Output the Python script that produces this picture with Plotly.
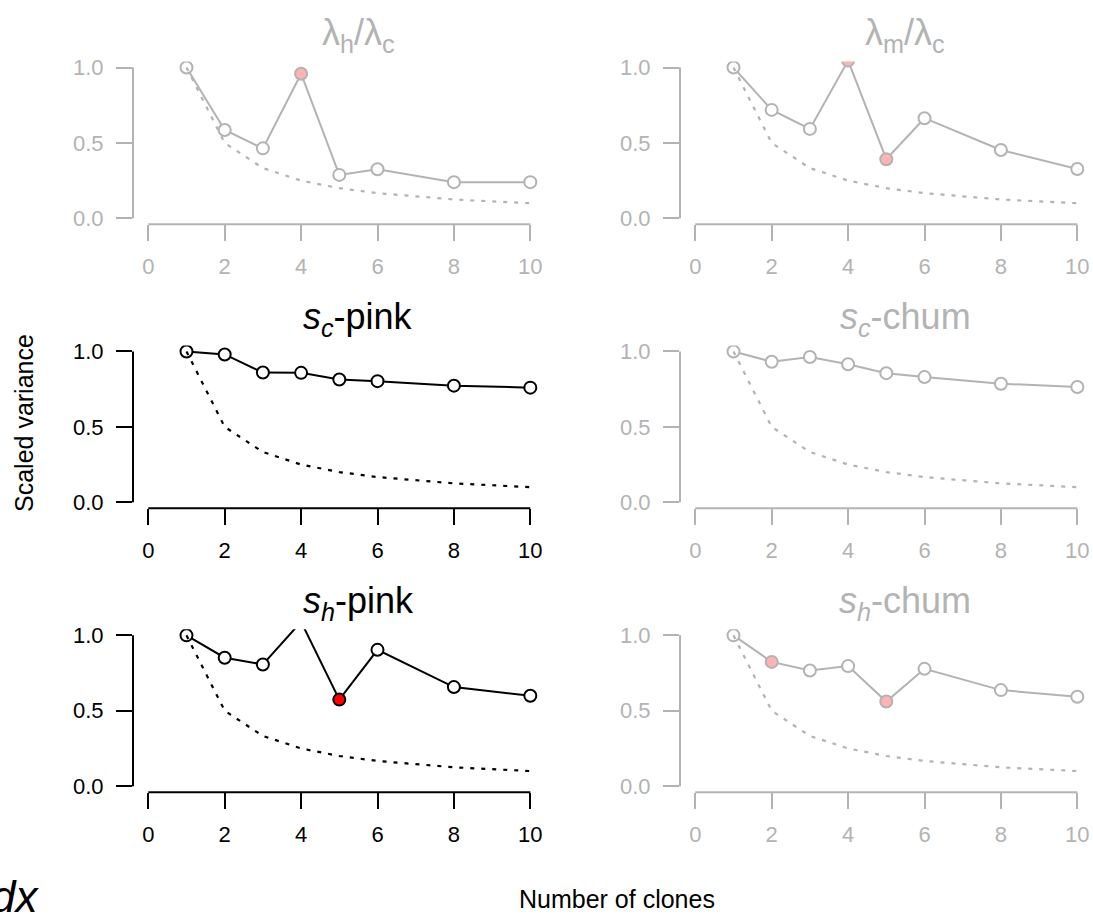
import plotly.graph_objects as go

W, H = 1093, 916

# ---------------- data ----------------
x_clones = [1, 2, 3, 4, 5, 6, 8, 10]
expected_1_over_n = [1.0, 0.5, 0.333, 0.25, 0.2, 0.167, 0.125, 0.1]

lam_h_over_lam_c = [1.0, 0.586, 0.464, 0.959, 0.288, 0.325, 0.240, 0.240]
lam_m_over_lam_c = [1.0, 0.719, 0.593, 1.046, 0.392, 0.664, 0.453, 0.327]
s_c_pink = [1.0, 0.980, 0.860, 0.858, 0.814, 0.803, 0.773, 0.760]
s_c_chum = [1.0, 0.932, 0.963, 0.915, 0.856, 0.830, 0.786, 0.764]
s_h_pink = [1.0, 0.852, 0.807, 1.09, 0.574, 0.904, 0.657, 0.600]
s_h_chum = [1.0, 0.824, 0.767, 0.796, 0.561, 0.778, 0.637, 0.593]

# x values of highlighted points in each panel
hl_lam_h = [4]
hl_lam_m = [4, 5]
hl_s_c_pink = []
hl_s_c_chum = []
hl_s_h_pink = [5]
hl_s_h_chum = [2, 5]

titles = [
    "λ<sub>h</sub>/λ<sub>c</sub>",
    "λ<sub>m</sub>/λ<sub>c</sub>",
    "<i>s</i><sub><i>c</i></sub>-pink",
    "<i>s</i><sub><i>c</i></sub>-chum",
    "<i>s</i><sub><i>h</i></sub>-pink",
    "<i>s</i><sub><i>h</i></sub>-chum",
]
x_ticks = [0, 2, 4, 6, 8, 10]
y_ticks = [0, 0.5, 1.0]
y_tick_text = ["0.0", "0.5", "1.0"]

# ---------------- styling ----------------
FONT = "Liberation Sans, Arial, Helvetica, sans-serif"
GREY = "#B3B3B3"
PINK = "#FFB3B3"
BLACK = "#000000"
RED = "#FF0000"

panels = [
    (lam_h_over_lam_c, hl_lam_h, False),
    (lam_m_over_lam_c, hl_lam_m, False),
    (s_c_pink, hl_s_c_pink, True),
    (s_c_chum, hl_s_c_chum, False),
    (s_h_pink, hl_s_h_pink, True),
    (s_h_chum, hl_s_h_chum, False),
]

XR = [-0.4, 10.4]
YR = [-0.04, 1.04]

# pixel geometry of the plot regions
col_left = [133.0, 680.0]
col_width = 412.6
row_top = [56.3, 344.3, 632.3]
row_height = 165.2


def px(v):
    return v / W


def py(v):
    return 1 - v / H


fig = go.Figure()
shapes = []
annotations = []

for i, (vals, hl, active) in enumerate(panels):
    r, c = divmod(i, 2)
    n = i + 1
    xa = "x" if n == 1 else f"x{n}"
    ya = "y" if n == 1 else f"y{n}"
    col = BLACK if active else GREY
    hl_fill = RED if active else PINK
    hl_line = BLACK if active else GREY

    fills = [hl_fill if x in hl else "white" for x in x_clones]
    lines = [hl_line if x in hl else col for x in x_clones]

    fig.add_trace(go.Scatter(
        x=x_clones, y=vals, mode="lines", xaxis=xa, yaxis=ya,
        line=dict(color=col, width=2), showlegend=False, hoverinfo="skip"))
    fig.add_trace(go.Scatter(
        x=x_clones, y=vals, mode="markers", xaxis=xa, yaxis=ya,
        marker=dict(size=12, color=fills, line=dict(color=lines, width=2)),
        showlegend=False, cliponaxis=True))
    fig.add_trace(go.Scatter(
        x=x_clones, y=expected_1_over_n, mode="lines", xaxis=xa, yaxis=ya,
        line=dict(color=col, width=2.2, dash="4px,7px"),
        showlegend=False, hoverinfo="skip"))

    x0 = col_left[c]
    y0 = row_top[r]
    fig.layout[f"xaxis{'' if n == 1 else n}"] = dict(
        domain=[px(x0), min(1.0, px(x0 + col_width))],
        range=XR, tickvals=x_ticks, ticks="outside", ticklen=16,
        tickwidth=2, tickcolor=col, tickfont=dict(family=FONT, size=22, color=col),
        showgrid=False, zeroline=False, showline=False, anchor=ya,
        ticklabelstandoff=6, fixedrange=True)
    fig.layout[f"yaxis{'' if n == 1 else n}"] = dict(
        domain=[py(y0 + row_height), py(y0)],
        range=YR, tickvals=y_ticks, ticktext=y_tick_text,
        ticks="outside", ticklen=16, tickwidth=2, tickcolor=col,
        tickfont=dict(family=FONT, size=22, color=col),
        showgrid=False, zeroline=False, showline=False, anchor=xa,
        ticklabelstandoff=8, fixedrange=True)

    # axis lines spanning only the tick range (R style)
    shapes.append(dict(type="line", xref=f"{xa} domain", yref=ya,
                       x0=0, x1=0, y0=0, y1=1, line=dict(color=col, width=2)))
    shapes.append(dict(type="line", xref=xa, yref=f"{ya} domain",
                       x0=0, x1=10, y0=0, y1=0, line=dict(color=col, width=2)))

    # panel title (centred a little right of the plot centre, as in the original)
    unit = col_width / (XR[1] - XR[0])
    annotations.append(dict(
        text=titles[i], xref="paper", yref="paper",
        x=px(x0 + (5.5 - XR[0]) * unit), y=py(y0 - 27),
        xanchor="center", yanchor="middle", showarrow=False,
        font=dict(family=FONT, size=36, color=col)))

annotations.append(dict(
    text="Scaled variance", xref="paper", yref="paper",
    x=px(24), y=py(423), xanchor="center", yanchor="middle",
    textangle=-90, showarrow=False, font=dict(family=FONT, size=25, color=BLACK)))
annotations.append(dict(
    text="Number of clones", xref="paper", yref="paper",
    x=px(617), y=py(906), xanchor="center", yanchor="middle",
    showarrow=False, font=dict(family=FONT, size=25, color=BLACK)))
annotations.append(dict(
    text="<i>dx</i>", xref="paper", yref="paper",
    x=px(41), y=py(903), xanchor="right", yanchor="middle",
    showarrow=False, font=dict(family=FONT, size=44, color=BLACK)))

fig.update_layout(
    width=W, height=H, margin=dict(l=0, r=0, t=0, b=0),
    paper_bgcolor="white", plot_bgcolor="white",
    shapes=shapes, annotations=annotations, showlegend=False,
    font=dict(family=FONT),
)

fig.write_html("out.html", include_plotlyjs=True, config={"displayModeBar": False})
